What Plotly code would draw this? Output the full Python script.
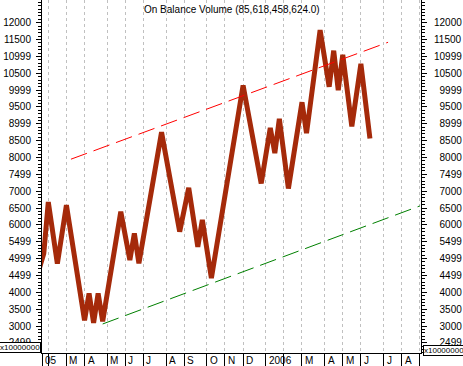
import datetime as dt
import plotly.graph_objects as go

# ---------------- data ----------------
week0 = "2005-01-07"   # first weekly bar (x index 0)

obv_dates = ["2005-01-21", "2005-01-28", "2005-02-04", "2005-02-18", "2005-03-04",
             "2005-04-01", "2005-04-08", "2005-04-15", "2005-04-22", "2005-04-29",
             "2005-05-27", "2005-06-10", "2005-06-17", "2005-06-24", "2005-07-29",
             "2005-08-26", "2005-09-09", "2005-09-23", "2005-09-30", "2005-10-14",
             "2005-12-02", "2005-12-30", "2006-01-13", "2006-01-20", "2006-01-27",
             "2006-02-10", "2006-03-03", "2006-03-10", "2006-03-31", "2006-04-14",
             "2006-04-21", "2006-04-28", "2006-05-05", "2006-05-19", "2006-06-02",
             "2006-06-16"]
obv_values = [4700, 5150, 6680, 4850, 6590,
              3170, 3970, 3090, 3970, 3140,
              6390, 4960, 5750, 4860, 8750,
              5800, 7100, 5350, 6150, 4420,
              10140, 7230, 8880, 8130, 9150,
              7080, 9640, 8720, 11780, 10100,
              11170, 10000, 11050, 8920, 10780,
              8562]

upper_trend_dates = ["2005-03-11", "2006-07-14"]
upper_trend_values = [7950, 11420]
lower_trend_dates = ["2005-04-29", "2006-09-01"]
lower_trend_values = [3060, 6562]

month_starts = ["2005-01-07", "2005-02-04", "2005-03-04", "2005-04-01", "2005-05-06",
                "2005-06-03", "2005-07-01", "2005-08-05", "2005-09-02", "2005-10-07",
                "2005-11-04", "2005-12-02", "2006-01-06", "2006-02-03", "2006-03-03",
                "2006-04-07", "2006-05-05", "2006-06-02", "2006-07-07", "2006-08-04",
                "2006-09-01"]
month_labels = ["05", "", "M", "A", "M", "J", "J", "A", "S", "O", "N", "D",
                "2006", "", "M", "A", "M", "J", "J", "A", ""]

y_tickvals = [2500, 3000, 3500, 4000, 4500, 5000, 5500, 6000, 6500, 7000,
              7500, 8000, 8500, 9000, 9500, 10000, 10500, 11000, 11500, 12000]
y_ticktext = ["2499", "3000", "3500", "4000", "4499", "4999", "5499", "6000", "6500", "7000",
              "7499", "8000", "8500", "8999", "9500", "9999", "10500", "10999", "11500", "12000"]

title_text = "On Balance Volume (85,618,458,624.0)"
scale_text = "x10000000"

# ---------------- helpers ----------------
d0 = dt.date.fromisoformat(week0)


def widx(s):
    return (dt.date.fromisoformat(s) - d0).days / 7.0


x_range = [2.61, 86.27]
y_range = [2199, 12674]
FONT = "Liberation Sans, Arial, sans-serif"

obv_x = [widx(d) for d in obv_dates]
month_x = [widx(d) for d in month_starts]

fig = go.Figure()
fig.add_trace(go.Scatter(x=obv_x, y=obv_values, mode="lines",
                         line=dict(color="#A52A0A", width=5),
                         hoverinfo="skip", showlegend=False))
fig.add_trace(go.Scatter(x=[widx(d) for d in upper_trend_dates], y=upper_trend_values,
                         mode="lines", line=dict(color="#FF0000", width=1, dash="17px,7px"),
                         hoverinfo="skip", showlegend=False, yaxis="y2"))
fig.add_trace(go.Scatter(x=[widx(d) for d in lower_trend_dates], y=lower_trend_values,
                         mode="lines", line=dict(color="#008000", width=1, dash="17px,7px"),
                         hoverinfo="skip", showlegend=False, yaxis="y2"))

yax = dict(range=y_range, tickmode="array", tickvals=y_tickvals, ticktext=y_ticktext,
           ticks="outside", ticklen=5, tickcolor="black", tickwidth=1,
           showline=True, linecolor="black", linewidth=1, automargin=False,
           showgrid=False, zeroline=False,
           tickfont=dict(family=FONT, size=10, color="black"),
           minor=dict(ticks="outside", dtick=100, tick0=0, ticklen=3,
                      tickcolor="black", tickwidth=1, showgrid=False))

right_text = [("\u2007" + t if len(t) == 4 else t) for t in y_ticktext]

fig.update_layout(
    width=463, height=366,
    margin=dict(l=42, r=42, t=0, b=13, pad=0, autoexpand=False),
    paper_bgcolor="white", plot_bgcolor="white",
    hovermode=False,
    xaxis=dict(range=x_range, tickmode="array", tickvals=[x_range[0]] + month_x,
               showticklabels=False, ticks="outside", ticklen=13, tickcolor="black",
               showgrid=True, gridcolor="#C0C0C0", gridwidth=1, griddash="3px,3px",
               showline=True, linecolor="black", linewidth=1, zeroline=False,
               automargin=False),
    yaxis=dict(yax, side="left", ticklabelstandoff=3),
    yaxis2=dict(yax, side="right", overlaying="y", anchor="x", ticktext=right_text,
                ticklabelstandoff=5),
)

ann = []
ann.append(dict(text=title_text, xref="paper", yref="paper", x=0.5, y=1 - 9 / 353,
                xanchor="center", yanchor="middle", showarrow=False,
                font=dict(family=FONT, size=10, color="black")))
for mx, lab in zip(month_x, month_labels):
    if not lab:
        continue
    ann.append(dict(text=lab, xref="x", yref="paper", x=max(mx, x_range[0]), y=-7 / 353,
                    xanchor="left", yanchor="middle", xshift=1, showarrow=False,
                    font=dict(family=FONT, size=10, color="black")))
ann.append(dict(text=scale_text, xref="paper", yref="paper", x=-1 / 379, y=6 / 353,
                xanchor="right", yanchor="middle", showarrow=False, bgcolor="white",
                bordercolor="black", borderwidth=1, borderpad=0,
                font=dict(family=FONT, size=8, color="black")))
ann.append(dict(text=scale_text, xref="paper", yref="paper", x=1 + 2 / 379, y=3 / 353,
                xanchor="left", yanchor="middle", showarrow=False, bgcolor="white",
                bordercolor="black", borderwidth=1, borderpad=0,
                font=dict(family=FONT, size=8, color="black")))
fig.update_layout(annotations=ann)

fig.write_html("out.html",
               config={"displayModeBar": False, "staticPlot": True},
               post_script="document.body.style.margin='0';document.body.style.overflow='hidden';")
